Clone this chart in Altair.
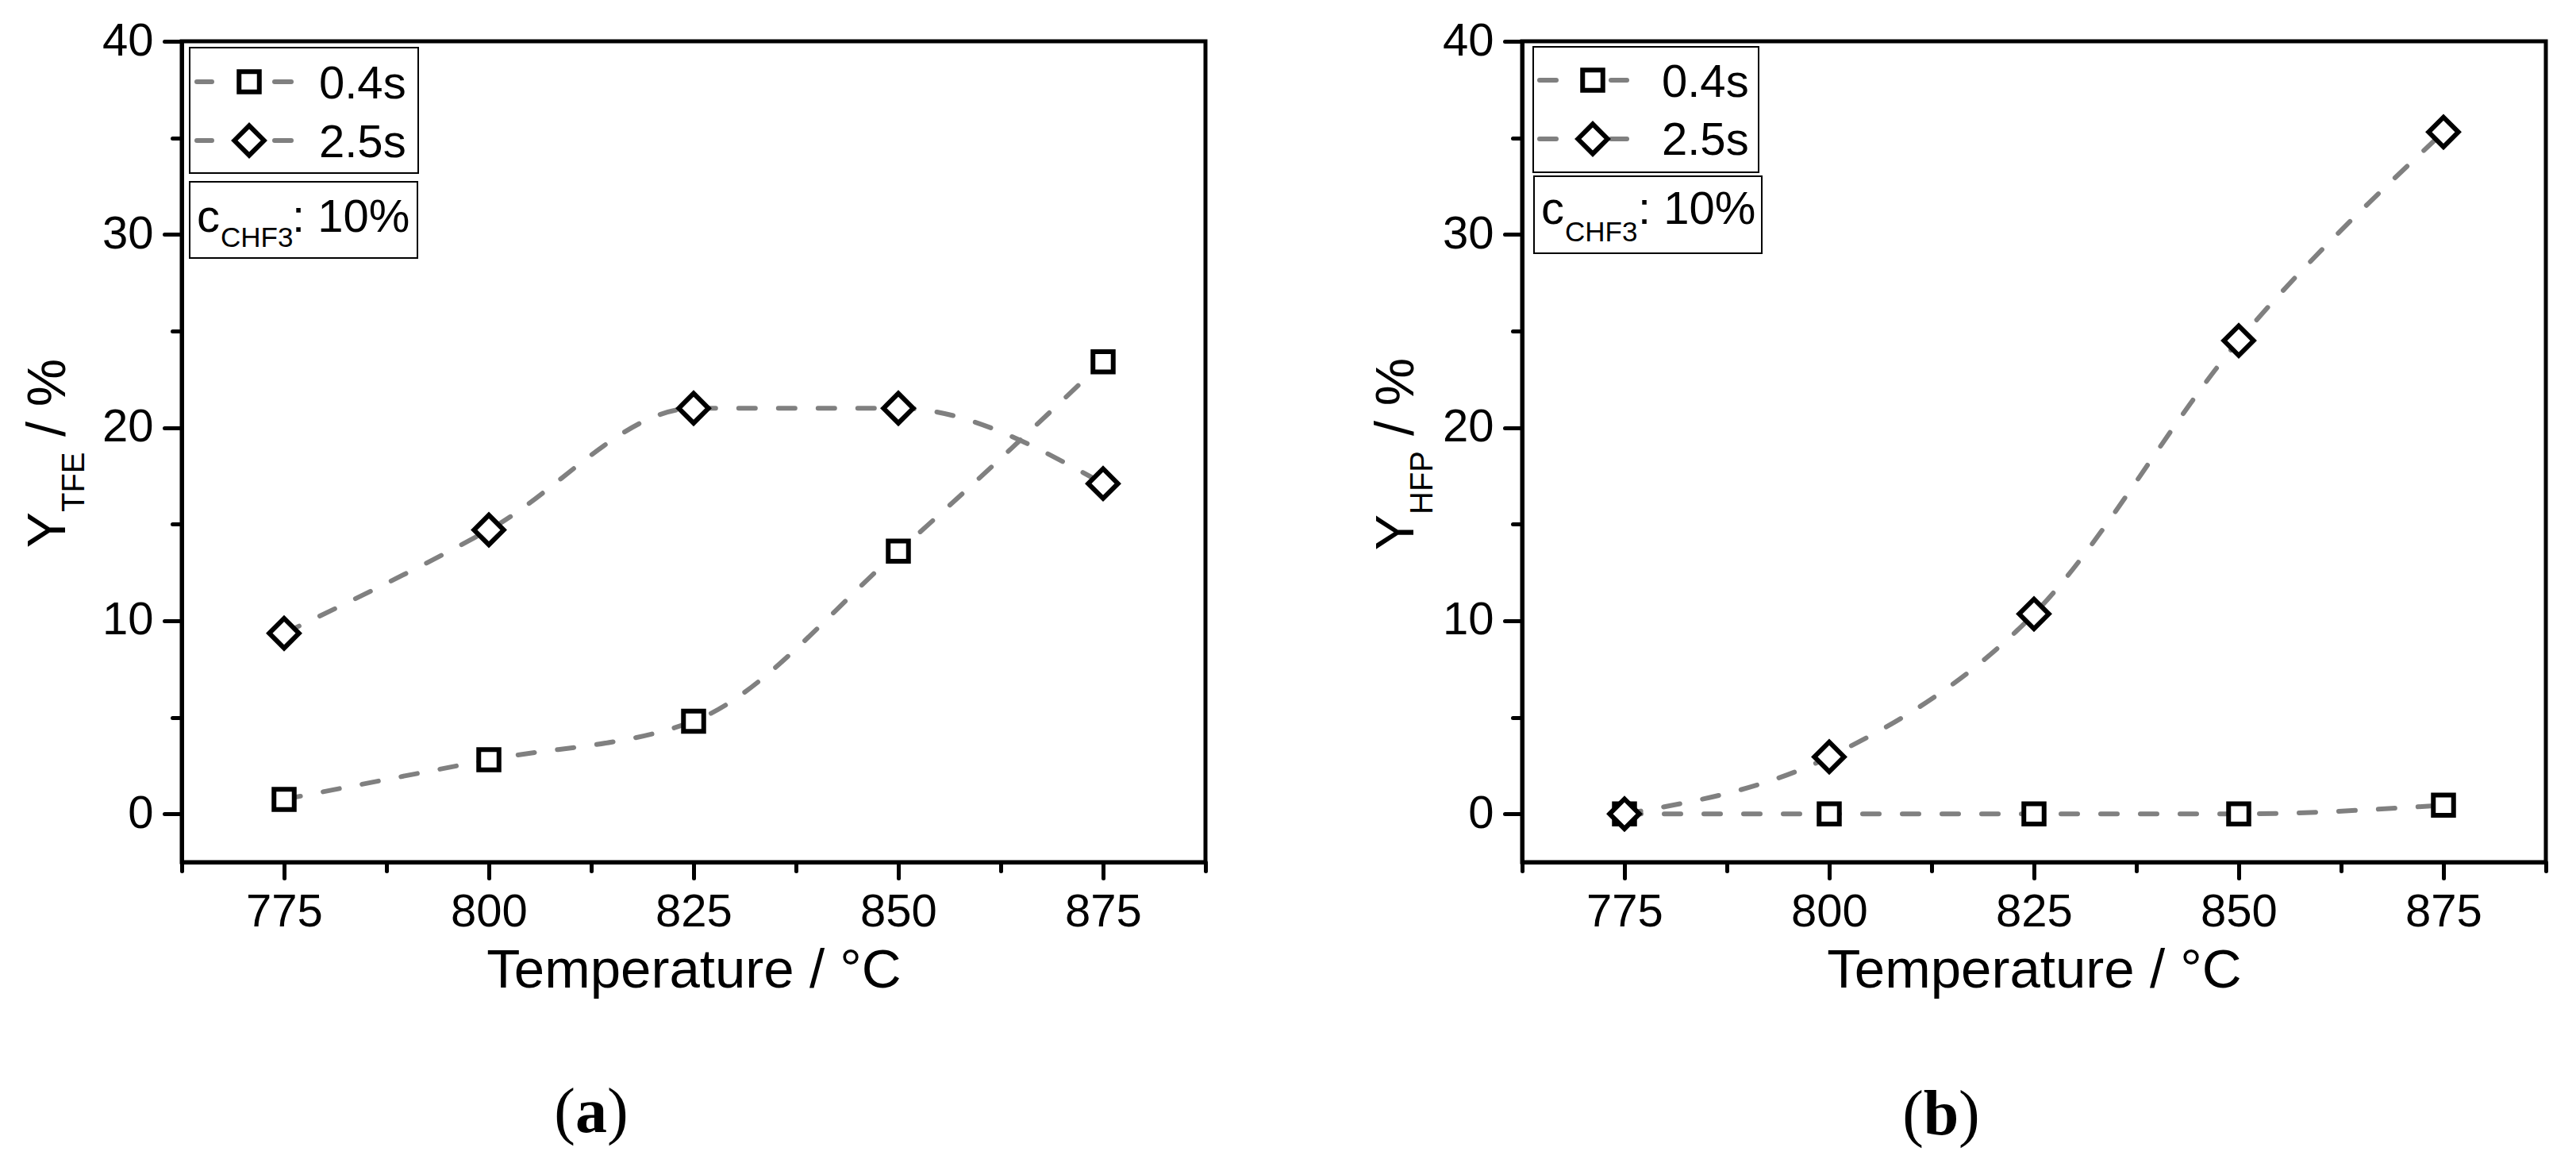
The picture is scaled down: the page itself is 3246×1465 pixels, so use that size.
import altair as alt
import pandas as pd

# ---------------- data ----------------
temperature = [775, 800, 825, 850, 875]
series_names = ["0.4s", "2.5s"]
tfe_04 = [0.75, 2.8, 4.8, 13.6, 23.4]
tfe_25 = [9.35, 14.7, 21.0, 21.0, 17.1]
hfp_04 = [0.0, 0.0, 0.0, 0.0, 0.45]
hfp_25 = [0.0, 2.95, 10.35, 24.5, 35.3]
x_major_ticks = [775, 800, 825, 850, 875]
x_minor_ticks = [762.5, 787.5, 812.5, 837.5, 862.5, 887.5]
y_major_ticks = [0, 10, 20, 30, 40]
y_minor_ticks = [5, 15, 25, 35]
x_title = "Temperature / °C"
conc_texts = ["c", "CHF3", ": 10%"]

FONT = "Liberation Sans"
SERIF = "Liberation Serif"
W, H = 1290, 1034
GREY = "#808080"

xscale = alt.Scale(domain=[762.5, 887.5], nice=False, zero=False)
yscale = alt.Scale(domain=[-2.5, 40], nice=False, zero=False)
shape_scale = alt.Scale(domain=series_names, range=["square", "diamond"])
size_scale = alt.Scale(domain=series_names, range=[650, 1400])


def long_df(a, b):
    rows = []
    for s, vals in zip(series_names, [a, b]):
        for t, v in zip(temperature, vals):
            rows.append({"T": t, "Y": v, "series": s})
    return pd.DataFrame(rows)


def one():
    return alt.Chart(alt.Data(values=[{"k": 1}]))


def txt(text, x, y, size, align="left", baseline="alphabetic", angle=None, font=FONT, weight="normal"):
    kw = dict(text=text, align=align, baseline=baseline, fontSize=size, font=font,
              fontWeight=weight, color="black")
    if angle is not None:
        kw["angle"] = angle
    return one().mark_text(**kw).encode(x=alt.value(x), y=alt.value(y))


def box(x1, y1, x2, y2):
    return one().mark_rect(fill="white", stroke="black", strokeWidth=2).encode(
        x=alt.value(x1), x2=alt.value(x2), y=alt.value(y1), y2=alt.value(y2))


def dash(x1, x2, y):
    return one().mark_rule(color=GREY, strokeWidth=6, strokeCap="round").encode(
        x=alt.value(x1), x2=alt.value(x2), y=alt.value(y))


def marker(shape, size, x, y):
    return one().mark_point(shape=shape, size=size, filled=True, fill="white", stroke="black",
                            strokeWidth=6, opacity=1).encode(x=alt.value(x), y=alt.value(y))


def panel(y04, y25, sub, tag, lay):
    df = long_df(y04, y25)
    base = alt.Chart(df)

    x_main = alt.X("T:Q", scale=xscale,
                   axis=alt.Axis(values=x_major_ticks, orient="bottom", title=x_title, tickSize=20,
                                 labelPadding=14, titlePadding=10, format="d", labelOverlap=False))
    y_main = alt.Y("Y:Q", scale=yscale,
                   axis=alt.Axis(values=y_major_ticks, orient="left", title=None, tickSize=22,
                                 labelPadding=14, format="d", labelOverlap=False))

    lines = base.mark_line(interpolate="monotone", strokeDash=[21, 29], strokeWidth=6,
                           strokeCap="round", color=GREY).encode(x=x_main, y=y_main, detail="series:N")

    points = base.mark_point(filled=True, fill="white", stroke="black", strokeWidth=6, opacity=1).encode(
        x=alt.X("T:Q", scale=xscale, axis=None),
        y=alt.Y("Y:Q", scale=yscale, axis=None),
        shape=alt.Shape("series:N", scale=shape_scale, legend=None),
        size=alt.Size("series:N", scale=size_scale, legend=None),
    )

    minor = base.mark_point(opacity=0).encode(
        x=alt.X("T:Q", scale=xscale,
                axis=alt.Axis(values=x_minor_ticks, orient="bottom", title=None, labels=False,
                              domain=False, tickSize=11)),
        y=alt.Y("Y:Q", scale=yscale,
                axis=alt.Axis(values=y_minor_ticks, orient="left", title=None, labels=False,
                              domain=False, tickSize=12)),
    )

    L = lay
    deco = [
        box(*L["box1"]), box(*L["box2"]),
        dash(L["dash1"][0], L["dash1"][1], L["rows"][0]), dash(L["dash2"][0], L["dash2"][1], L["rows"][0]),
        dash(L["dash1"][0], L["dash1"][1], L["rows"][1]), dash(L["dash2"][0], L["dash2"][1], L["rows"][1]),
        marker("square", 650, L["mark_x"], L["rows"][0]),
        marker("diamond", 1400, L["mark_x"], L["rows"][1]),
        txt(series_names[0], L["label_x"], L["base"][0], 58),
        txt(series_names[1], L["label_x"], L["base"][1], 58),
        txt(conc_texts[0], L["c_x"], L["c_base"], 58),
        txt(conc_texts[1], L["sub_x"], L["sub_base"], 35),
        txt(conc_texts[2], L["rest_x"], L["c_base"], 58),
        # y axis title  Y_sub / %
        txt("Y", L["yt_x"], L["yt_y"], 68, align="right", angle=270),
        txt(sub, L["yt_x"] + 24, L["yt_y"], 40, align="left", angle=270),
        txt("/ %", L["yt_x"], L["yt_y"] - L["sub_w"] - 19, 68, align="left", angle=270),
        # panel tag (a)/(b)
        txt("(", L["tag_x"] - L["tag_w"], L["tag_y"], 80, align="right", font=SERIF),
        txt(tag, L["tag_x"], L["tag_y"], 80, align="center", font=SERIF, weight="bold"),
        txt(")", L["tag_x"] + L["tag_w"], L["tag_y"], 80, align="left", font=SERIF),
    ]

    return alt.layer(lines, points, minor, *deco).resolve_axis(
        x="independent", y="independent").properties(width=W, height=H)


lay_a = dict(box1=(10, 8, 298, 166), box2=(10, 177, 297, 273), rows=(51, 125), base=(72, 146),
             dash1=(19, 38), dash2=(117, 138), mark_x=85, label_x=173,
             c_x=19, c_base=240, sub_x=49, sub_base=259, rest_x=139,
             yt_x=-147, yt_y=593, sub_w=76, tag_x=516, tag_y=1374, tag_w=20)
lay_b = dict(box1=(14, 7, 298, 165), box2=(15, 170, 302, 267), rows=(49, 123), base=(70, 143),
             dash1=(22, 43), dash2=(112, 132), mark_x=89, label_x=176,
             c_x=24, c_base=230, sub_x=54, sub_base=252, rest_x=146,
             yt_x=-137, yt_y=596, sub_w=80, tag_x=528, tag_y=1377, tag_w=22)

left = panel(tfe_04, tfe_25, "TFE", "a", lay_a)
right = panel(hfp_04, hfp_25, "HFP", "b", lay_b)

chart = alt.hconcat(left, right, spacing=200).properties(
    padding={"left": 17, "top": 12, "right": 5, "bottom": 5}
).configure(font=FONT).configure_view(stroke="black", strokeWidth=5).configure_axis(
    domainColor="black", domainWidth=5, tickColor="black", tickWidth=5, tickCap="round",
    labelColor="black", titleColor="black", labelFont=FONT, titleFont=FONT, grid=False,
    labelFontSize=58, titleFontSize=69, titleFontWeight="normal",
)

chart.save("out.html", embed_options={"renderer": "svg", "actions": False})
